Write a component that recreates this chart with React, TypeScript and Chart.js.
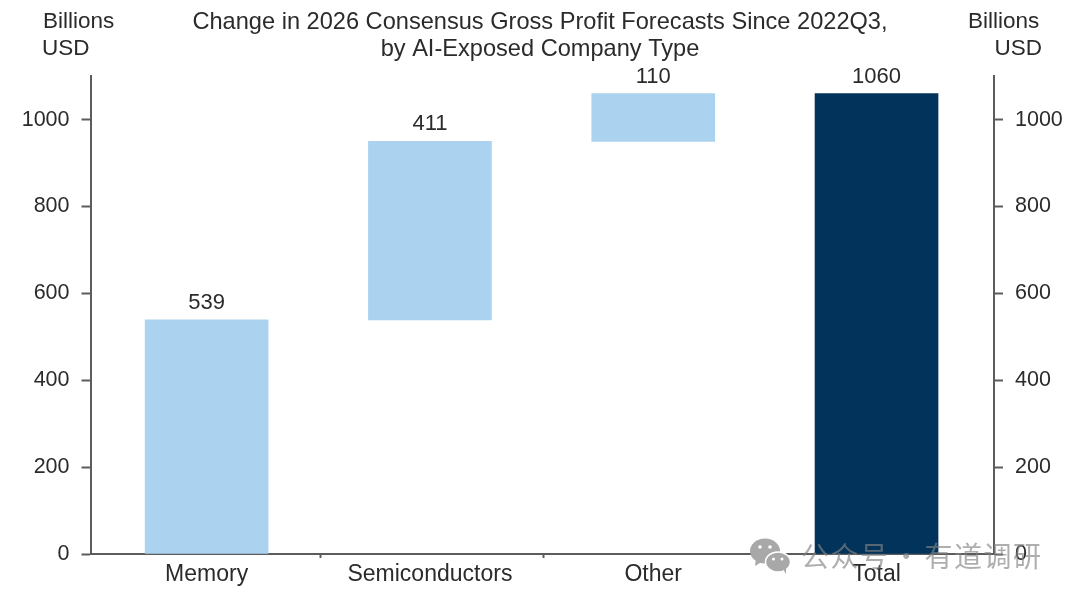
import React, { useEffect, useRef } from 'react';
import { Chart, registerables } from 'chart.js';

Chart.register(...registerables);

const categories = ['Memory', 'Semiconductors', 'Other', 'Total'];
const barStarts = [0, 539, 950, 0];
const barEnds = [539, 950, 1060, 1060];
const barLabels = ['539', '411', '110', '1060'];
const titleLines = ['Change in 2026 Consensus Gross Profit Forecasts Since 2022Q3,', 'by AI-Exposed Company Type'];

const LIGHT_BLUE = '#ABD3EF';
const NAVY = '#01335B';
const AXIS = '#5c5c5c';
const TEXT = '#2b2b2b';
const FONT = '"Liberation Sans", Arial, sans-serif';

// value labels above bars and the two "Billions USD" unit captions
const extrasPlugin = {
  id: 'extras',
  afterDatasetsDraw(chart: Chart) {
    const { ctx } = chart;
    ctx.save();
    ctx.fillStyle = TEXT;
    ctx.font = `22px ${FONT}`;
    ctx.textAlign = 'center';
    ctx.textBaseline = 'middle';
    chart.getDatasetMeta(0).data.forEach((bar: any, i: number) => {
      ctx.fillText(barLabels[i], bar.x, bar.y - 17);
    });

    ctx.font = `22.5px ${FONT}`;
    ctx.textAlign = 'left';
    ctx.fillText('Billions', 43, 22);
    ctx.fillText('USD', 42, 49);
    ctx.fillText('Billions', 968, 22);
    ctx.textAlign = 'right';
    ctx.fillText('USD', 1042, 49);
    ctx.restore();
  },
};

const App: React.FC = () => {
  const canvasRef = useRef<HTMLCanvasElement>(null);

  useEffect(() => {
    if (!canvasRef.current) return;
    const axisLine = { color: AXIS, width: 2 };
    const yTicks = {
      stepSize: 200,
      includeBounds: false,
      padding: 12,
      color: TEXT,
      font: { family: FONT, size: 21.5 },
      callback: (v: any) => String(v),
    };
    const yGrid = { drawOnChartArea: false, tickColor: AXIS, tickWidth: 2, tickLength: 9 };

    const chart = new Chart(canvasRef.current, {
      type: 'bar',
      data: {
        datasets: [{
          data: categories.map((_, i) => ({ x: i, y: [barStarts[i], barEnds[i]] })) as any,
          backgroundColor: categories.map((_, i) => (i === categories.length - 1 ? NAVY : LIGHT_BLUE)),
          barThickness: 123,
          yAxisID: 'y',
        }],
      },
      options: {
        responsive: false,
        animation: false,
        layout: { padding: 0 },
        plugins: {
          legend: { display: false },
          tooltip: { enabled: false },
          title: {
            display: true,
            text: titleLines,
            color: TEXT,
            font: { family: FONT, size: 23.6, weight: 'normal', lineHeight: 1.15 },
            padding: { top: 9, bottom: 13 },
          },
        },
        scales: {
          x: {
            type: 'linear',
            offset: false,
            min: -0.52,
            max: 3.526,
            border: axisLine,
            grid: {
              offset: false,
              drawOnChartArea: false,
              tickLength: 4,
              tickWidth: 2,
              tickColor: (ctx: any) => (ctx.tick && ctx.tick.value % 1 !== 0 ? AXIS : 'rgba(0,0,0,0)'),
            },
            afterBuildTicks: (scale: any) => {
              scale.ticks = [0, 0.51, 1, 1.51, 2, 2.51, 3].map(value => ({ value }));
            },
            afterFit: (scale: any) => { scale.height = 45; },
            ticks: {
              autoSkip: false,
              maxRotation: 0,
              padding: 3,
              color: TEXT,
              font: { family: FONT, size: 23 },
              callback: (v: any) => (Number(v) % 1 === 0 ? categories[Number(v)] : ''),
            },
          },
          y: {
            position: 'left',
            min: 0,
            max: 1100,
            border: axisLine,
            grid: yGrid,
            ticks: yTicks,
            afterFit: (scale: any) => { scale.width = 90.5; },
          },
          y2: {
            position: 'right',
            min: 0,
            max: 1100,
            border: axisLine,
            grid: yGrid,
            ticks: { ...yTicks, crossAlign: 'near' },
            afterFit: (scale: any) => { scale.width = 86; },
          },
        },
      },
      plugins: [extrasPlugin],
    } as any);

    return () => chart.destroy();
  }, []);

  return (
    <div style={{ position: 'absolute', left: 0, top: 0, width: 1080, height: 599, background: '#fff', overflow: 'hidden' }}>
      <canvas ref={canvasRef} width={1080} height={599} style={{ display: 'block' }} />
      {/* WeChat watermark */}
      <svg width="42" height="36" viewBox="0 0 42 36" style={{ position: 'absolute', left: 750, top: 538 }}>
        <ellipse cx="15" cy="13" rx="15" ry="12.5" fill="#a8a8a8" />
        <path d="M6 20 L5 28 L13 23 Z" fill="#a8a8a8" />
        <circle cx="10" cy="9" r="1.8" fill="#fff" />
        <circle cx="20" cy="9" r="1.8" fill="#fff" />
        <ellipse cx="28" cy="24" rx="12.5" ry="10" fill="#a8a8a8" stroke="#fff" strokeWidth="1.5" />
        <path d="M33 31 L36 36 L36 29 Z" fill="#a8a8a8" />
        <circle cx="23.5" cy="21" r="1.5" fill="#fff" />
        <circle cx="32" cy="21" r="1.5" fill="#fff" />
      </svg>
      <div style={{ position: 'absolute', left: 801, top: 537, fontFamily: '"Noto Sans CJK SC", sans-serif', fontSize: 28, lineHeight: '36px', color: 'rgba(130,130,130,0.65)', whiteSpace: 'nowrap', letterSpacing: 1.5, wordSpacing: -5 }}>
        公众号 · 有道调研
      </div>
    </div>
  );
};

export default App;
